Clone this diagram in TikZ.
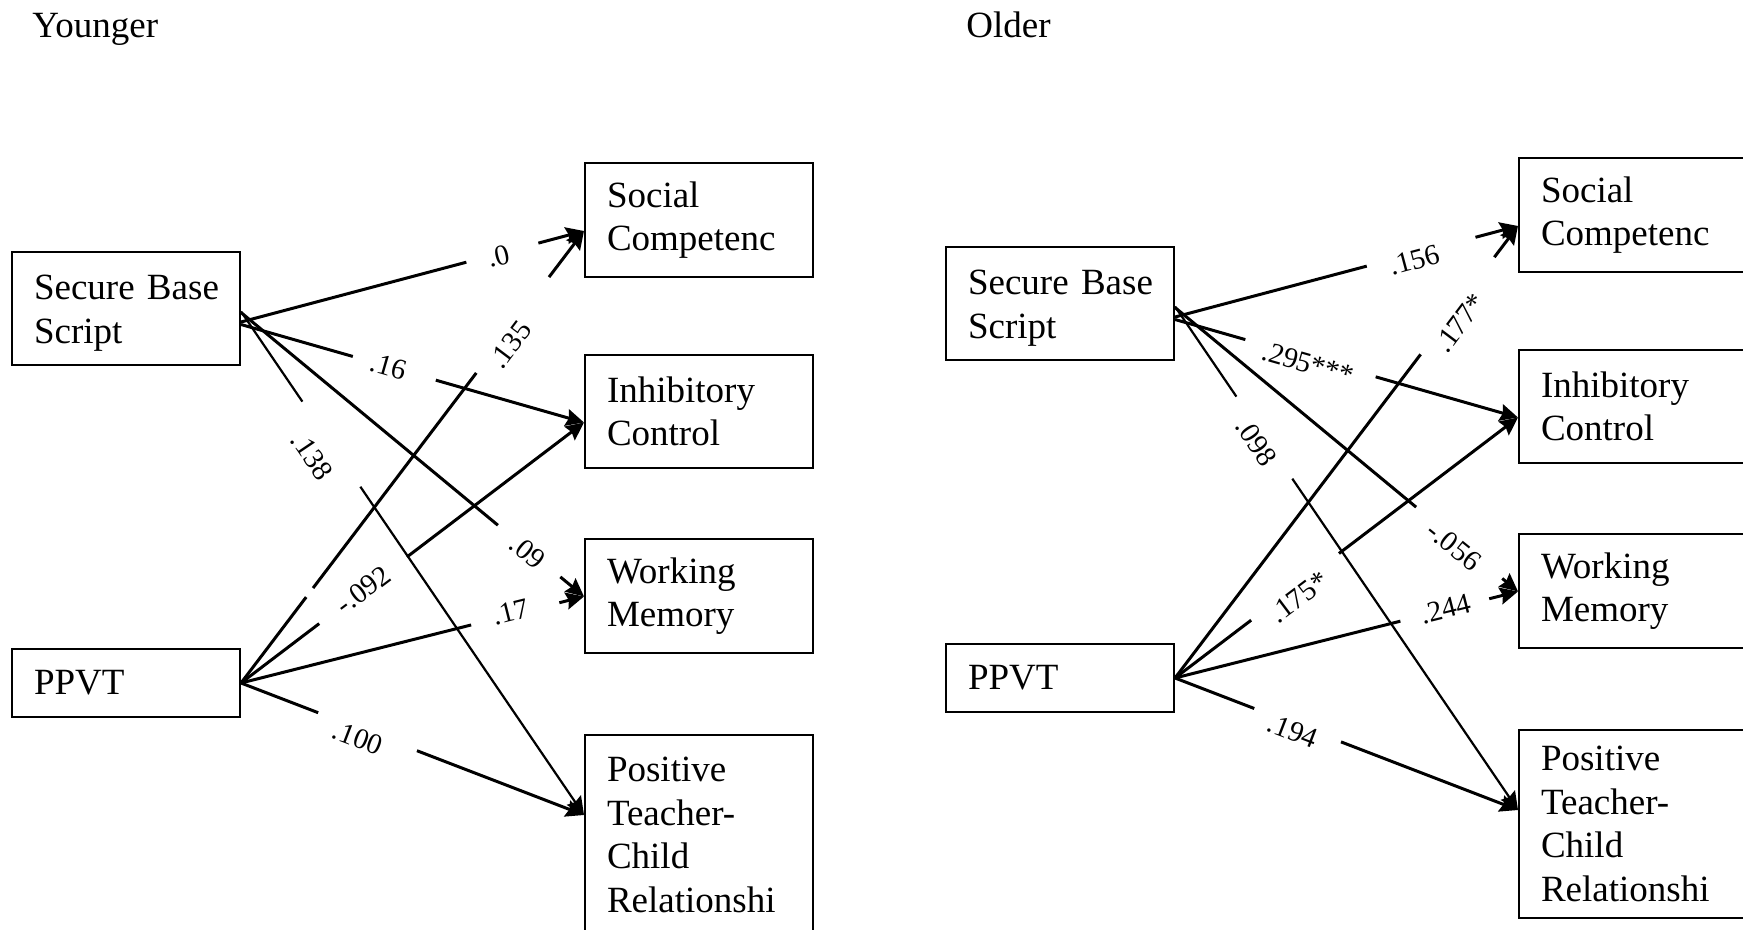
\documentclass[tikz,border=0pt]{standalone}
\usepackage{fontspec}
\setmainfont{Liberation Serif}
\usetikzlibrary{calc,arrows.meta}

% a connector drawn from #2 to #3, left open between fractions #4 and #5
\newcommand{\gapconn}[5][]{%
  \draw[conn,#1] (#2) -- ($(#2)!#4!(#3)$) ($(#2)!#5!(#3)$) -- (#3);}

\begin{document}
\begin{tikzpicture}[x=0.5pt,y=-0.5pt,
  box/.style={draw, line width=1pt, minimum width=114pt, text width=92pt,
    align=left, inner xsep=11pt, inner ysep=0pt,
    font=\fontsize{18.5pt}{21.7pt}\selectfont},
  title/.style={anchor=base west, inner sep=0pt,
    font=\fontsize{18.5pt}{21.7pt}\selectfont},
  conn/.style={line width=1.5pt,
    -{Stealth[length=9pt,width=8.5pt,inset=1.2pt]}},
  slim/.style={line width=1.1pt},
  lab/.style={inner sep=0pt, font=\fontsize{14.5pt}{17pt}\selectfont}]

\useasboundingbox (0,0) rectangle (1743,930);
\clip (0,0) rectangle (1743,930);

% ---------------- Younger ----------------
\node[title] (ttlY) at (32,38) {Younger};

\node[box, minimum height=56.5pt] (ysbs)  at (126,308.5) {\rule{0pt}{17pt}Secure~Base\\Script};
\node[box, minimum height=34pt]   (yppvt) at (126,683)   {PPVT};
\node[box, minimum height=57pt]   (ysoc)  at (699,220)   {Social\\Competenc};
\node[box, minimum height=56.5pt] (yinh)  at (699,411.5) {Inhibitory\\Control};
\node[box, minimum height=57pt]   (ywm)   at (699,596)   {Working\\Memory};
\node[box, minimum height=100pt]  (yptc)  at (699,835)   {Positive\\Teacher-\\Child\\Relationshi};

\coordinate (ysA1) at ($(ysbs.east)+(0,13.5)$);
\coordinate (ysA2) at ($(ysbs.east)+(0,16)$);
\coordinate (ysA3) at ($(ysbs.east)+(0,4)$);
\coordinate (ysA4) at ($(ysbs.east)+(0,3)$);
\coordinate (ysocT) at ($(ysoc.west)+(0,11)$);
\coordinate (yinhT) at ($(yinh.west)+(0,11)$);
\coordinate (ywmT)  at ($(ywm.west)+(0,0.5)$);
\coordinate (yptcT) at ($(yptc.north west)+(0,81)$);

\gapconn{ysA1}{ysocT}{0.657}{0.867}
\gapconn{ysA2}{yinhT}{0.326}{0.568}
\gapconn{ysA3}{ywmT}{0.749}{0.931}
\gapconn[slim]{ysA4}{yptcT}{0.179}{0.348}
\draw[conn] (yppvt.east) -- ($(yppvt.east)!0.190!(ysocT)$)
  ($(yppvt.east)!0.210!(ysocT)$) -- ($(yppvt.east)!0.686!(ysocT)$)
  ($(yppvt.east)!0.898!(ysocT)$) -- (ysocT);
\gapconn{yppvt.east}{yinhT}{0.228}{0.484}
\gapconn{yppvt.east}{ywmT}{0.671}{0.928}
\gapconn{yppvt.east}{yptcT}{0.225}{0.513}

\node[lab, rotate=14]  (yl1) at (499,256) {.0};
\node[lab, rotate=-16] (yl2) at (389,366) {.16};
\node[lab, rotate=-39] (yl3) at (528,552) {.09};
\node[lab, rotate=-56] (yl4) at (312,456) {.138};
\node[lab, rotate=53]  (yl5) at (510,345) {.135};
\node[lab, rotate=37]  (yl6) at (363,590) {-.092};
\node[lab, rotate=14]  (yl7) at (511,612) {.17};
\node[lab, rotate=-21] (yl8) at (358,738) {.100};

% ---------------- Older ----------------
\node[title] (ttlO) at (966,38) {Older};

\node[box, minimum height=56.5pt] (osbs)  at (1060,303.5) {\rule{0pt}{17pt}Secure~Base\\Script};
\node[box, minimum height=34pt]   (oppvt) at (1060,678)   {PPVT};
\node[box, minimum height=57pt]   (osoc)  at (1633,215)   {Social\\Competenc};
\node[box, minimum height=56.5pt] (oinh)  at (1633,406.5) {Inhibitory\\Control};
\node[box, minimum height=57pt]   (owm)   at (1633,591)   {Working\\Memory};
\node[box, minimum height=94pt]   (optc)  at (1633,824)   {Positive\\Teacher-\\Child\\Relationshi};

\coordinate (osA1) at ($(osbs.east)+(0,13.5)$);
\coordinate (osA2) at ($(osbs.east)+(0,16)$);
\coordinate (osA3) at ($(osbs.east)+(0,4)$);
\coordinate (osA4) at ($(osbs.east)+(0,3)$);
\coordinate (osocT) at ($(osoc.west)+(0,11)$);
\coordinate (oinhT) at ($(oinh.west)+(0,11)$);
\coordinate (owmT)  at ($(owm.west)+(0,0.5)$);
\coordinate (optcT) at ($(optc.north west)+(0,81)$);

\gapconn{osA1}{osocT}{0.559}{0.876}
\gapconn{osA2}{oinhT}{0.205}{0.585}
\gapconn{osA3}{owmT}{0.703}{0.954}
\gapconn[slim]{osA4}{optcT}{0.179}{0.342}
\gapconn{oppvt.east}{osocT}{0.716}{0.931}
\gapconn{oppvt.east}{oinhT}{0.222}{0.478}
\gapconn{oppvt.east}{owmT}{0.657}{0.916}
\gapconn{oppvt.east}{optcT}{0.231}{0.484}

\node[lab, rotate=15]  (ol1) at (1415,260) {.156};
\node[lab, rotate=-16] (ol2) at (1308,363) {.295***};
\node[lab, rotate=-39] (ol3) at (1454,546) {-.056};
\node[lab, rotate=-56] (ol4) at (1256,442) {.098};
\node[lab, rotate=53]  (ol5) at (1460,323) {.177*};
\node[lab, rotate=37]  (ol6) at (1299,597) {.175*};
\node[lab, rotate=14]  (ol7) at (1446,609) {.244};
\node[lab, rotate=-21] (ol8) at (1293,731) {.194};
\end{tikzpicture}
\end{document}
